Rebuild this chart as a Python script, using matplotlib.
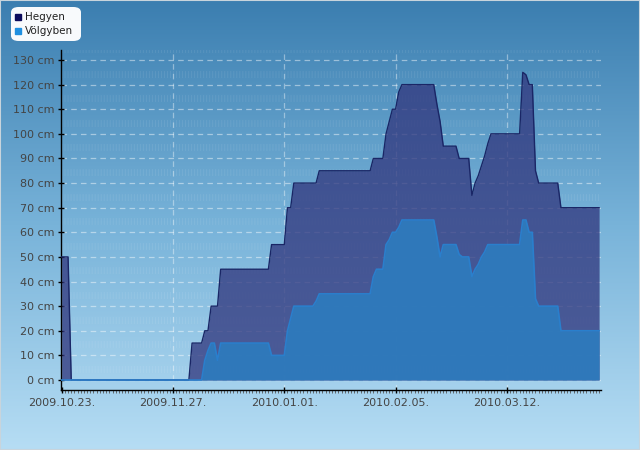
import datetime as dt

import matplotlib
matplotlib.use("Agg")
import matplotlib.dates as mdates
import matplotlib.pyplot as plt
import numpy as np
from matplotlib.colors import LinearSegmentedColormap
from matplotlib.lines import Line2D
from matplotlib.patches import FancyBboxPatch

start = dt.date(2009, 10, 23)

# daily snow depth (cm), one value per day from 2009.10.23.
hegyen = [
    50, 50, 50, 0, 0, 0, 0, 0, 0, 0,
    0, 0, 0, 0, 0, 0, 0, 0, 0, 0,
    0, 0, 0, 0, 0, 0, 0, 0, 0, 0,
    0, 0, 0, 0, 0, 0, 0, 0, 0, 0,
    0, 15, 15, 15, 15, 20, 20, 30, 30, 30,
    45, 45, 45, 45, 45, 45, 45, 45, 45, 45,
    45, 45, 45, 45, 45, 45, 55, 55, 55, 55,
    55, 70, 70, 80, 80, 80, 80, 80, 80, 80,
    80, 85, 85, 85, 85, 85, 85, 85, 85, 85,
    85, 85, 85, 85, 85, 85, 85, 85, 90, 90,
    90, 90, 100, 105, 110, 110, 117, 120, 120, 120,
    120, 120, 120, 120, 120, 120, 120, 120, 112, 105,
    95, 95, 95, 95, 95, 90, 90, 90, 90, 75,
    80, 83, 87, 91, 96, 100, 100, 100, 100, 100,
    100, 100, 100, 100, 100, 125, 124, 120, 120, 85,
    80, 80, 80, 80, 80, 80, 80, 70, 70, 70,
    70, 70, 70, 70, 70, 70, 70, 70, 70, 70,
]
volgyben = [
    0, 0, 0, 0, 0, 0, 0, 0, 0, 0,
    0, 0, 0, 0, 0, 0, 0, 0, 0, 0,
    0, 0, 0, 0, 0, 0, 0, 0, 0, 0,
    0, 0, 0, 0, 0, 0, 0, 0, 0, 0,
    0, 0, 0, 0, 0, 8, 12, 15, 15, 8,
    15, 15, 15, 15, 15, 15, 15, 15, 15, 15,
    15, 15, 15, 15, 15, 15, 10, 10, 10, 10,
    10, 20, 25, 30, 30, 30, 30, 30, 30, 30,
    32, 35, 35, 35, 35, 35, 35, 35, 35, 35,
    35, 35, 35, 35, 35, 35, 35, 35, 42, 45,
    45, 45, 55, 57, 60, 60, 62, 65, 65, 65,
    65, 65, 65, 65, 65, 65, 65, 65, 58, 50,
    55, 55, 55, 55, 55, 51, 50, 50, 50, 42,
    45, 47, 50, 52, 55, 55, 55, 55, 55, 55,
    55, 55, 55, 55, 55, 65, 65, 60, 60, 33,
    30, 30, 30, 30, 30, 30, 30, 20, 20, 20,
    20, 20, 20, 20, 20, 20, 20, 20, 20, 20,
]
series_names = ["Hegyen", "Völgyben"]
legend_colors = ['#0c0c5c', '#1e8fe0']

days = [start + dt.timedelta(days=i) for i in range(len(hegyen))]

plt.rcParams['lines.scale_dashes'] = False

fig = plt.figure(figsize=(6.4, 4.5), dpi=100)

# background gradient
bg = fig.add_axes([0, 0, 1, 1], zorder=-10)
cmap = LinearSegmentedColormap.from_list("bg", ["#3b7eb0", "#78b3d9", "#b6ddf4"])
bg.imshow(np.linspace(0, 1, 256).reshape(-1, 1), aspect='auto', cmap=cmap,
          extent=[0, 1, 0, 1])
bg.set_axis_off()
bg.add_patch(plt.Rectangle((0, 0), 1, 1, fill=False, ec="#c8d4dc", lw=1.5,
                           transform=bg.transAxes))

ax = fig.add_axes([61/640, 60/450, 540/640, 340/450])
ax.set_facecolor('none')

x0 = mdates.date2num(start)
ax.set_xlim(x0 - 0.22, x0 + 169.6)
ax.set_ylim(-4.06, 134.06)

# faint stripe rows in the plot area
for yv in np.arange(4.5, 135, 10):
    ax.axhline(yv, color='white', alpha=0.08, lw=5, ls=(0, (0.72, 1.45)), zorder=0)

# grid
for yv in range(0, 140, 10):
    ax.axhline(yv, color='white', alpha=0.45, lw=0.9, ls=(0, (4, 3)), zorder=0.5)

ax.fill_between(days, hegyen, color='#333a80', alpha=0.78, lw=0, zorder=2)
ax.plot(days, hegyen, color='#1a2666', lw=1.0, zorder=3)
ax.fill_between(days, volgyben, color='#2f7abc', alpha=0.97, lw=0, zorder=4)
ax.plot(days, volgyben, color='#2a7fcc', lw=1.2, zorder=5)

ax.xaxis.set_major_locator(plt.FixedLocator([x0 + 35*k for k in range(5)]))
ax.xaxis.set_minor_locator(plt.FixedLocator([x0 + k for k in range(170)]))
ax.xaxis.set_major_formatter(mdates.DateFormatter('%Y.%m.%d.'))
for xv in ax.get_xticks()[1:]:
    ax.axvline(xv, color='white', alpha=0.4, lw=0.9, ls=(0, (4, 3)), zorder=0.5)

ax.set_yticks(range(0, 140, 10))
ax.set_yticklabels([f"{v} cm" for v in range(0, 140, 10)])

for s in ['top', 'right']:
    ax.spines[s].set_visible(False)
for s in ['left', 'bottom']:
    ax.spines[s].set_color('black')
    ax.spines[s].set_linewidth(1.0)

ax.tick_params(axis='both', which='major', direction='inout', length=5, width=1,
               color='black', labelsize=8, labelcolor='#444444', pad=2)
ax.tick_params(axis='x', which='minor', direction='out', length=2, width=0.6,
               color='#555555')
ax.tick_params(axis='x', which='major', pad=3)

# legend box
box = FancyBboxPatch((11/640, 1 - 41/450), 70/640, 34/450,
                     boxstyle="round,pad=0,rounding_size=0.012",
                     transform=fig.transFigure, fc='white', ec='none', alpha=0.97,
                     zorder=5)
fig.patches.append(box)
for i, (name, c) in enumerate(zip(series_names, legend_colors)):
    yy = 1 - (17 + i*14)/450
    fig.add_artist(Line2D([18/640], [yy], marker='s', markersize=4.5, color=c,
                          markeredgecolor=c, transform=fig.transFigure, zorder=6))
    fig.text(25/640, yy, name, fontsize=7.5, color='#222222', va='center',
             ha='left', zorder=6)

fig.savefig('out.png', dpi=100)
